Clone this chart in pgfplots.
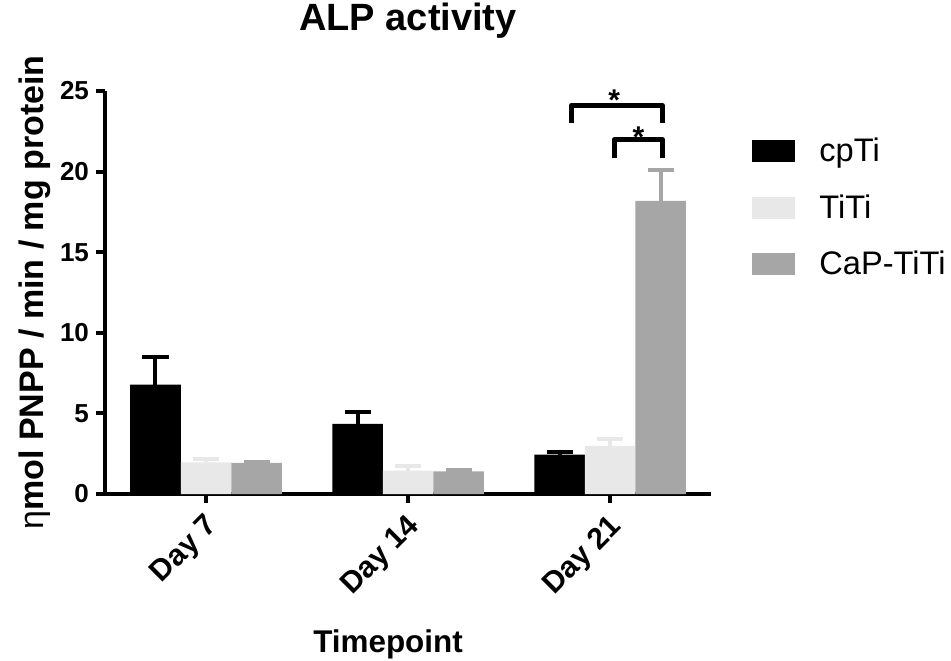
\documentclass[border=0pt]{standalone}
\usepackage{pgfplots}
\pgfplotsset{compat=1.18}
\usepackage{fontspec}
\setmainfont{Liberation Sans}
\definecolor{lightbar}{RGB}{232,232,232}
\definecolor{graybar}{RGB}{166,166,166}
\begin{document}
\begin{tikzpicture}
\useasboundingbox (-52.5pt,-83pt) rectangle (423pt,247pt);
\begin{axis}[
  at={(0,0)}, anchor=south west,
  scale only axis, width=303pt, height=201.5pt,
  xmin=-0.5, xmax=2.5, ymin=0, ymax=25,
  clip=false,
  axis x line*=bottom, axis y line*=left,
  axis line style={line width=2pt, black},
  tick style={line width=2pt, black},
  tick align=outside, major tick length=4.5pt,
  ybar=0pt, bar width=0.25,
  xtick={0,1,2}, xticklabels={Day 7, Day 14, Day 21},
  ytick={0,5,10,15,20,25},
  /pgf/number format/assume math mode=true,
  yticklabel style={font=\fontsize{13}{15}\selectfont\bfseries},
  xticklabel style={font=\fontsize{15}{17}\selectfont\bfseries, xshift=-1pt, yshift=-4.5pt, rotate=45, anchor=north east, inner sep=0pt},
  title={ALP activity},
  title style={font=\fontsize{19}{22}\selectfont\bfseries, at={(axis description cs:0.5,1.1199)}, anchor=base},
  xlabel={Timepoint},
  xlabel style={font=\fontsize{15.7}{18}\selectfont\bfseries, at={(axis description cs:0.467,-0.3945)}, anchor=base},
  ylabel={{\mdseries η}mol PNPP / min / mg protein},
  ylabel style={font=\fontsize{17}{20}\selectfont\bfseries, at={(axis description cs:-0.1023,0.5)}, anchor=base},
  legend image code/.code={\fill[#1] (0pt,-5.5pt) rectangle (21.5pt,5.5pt);},
  legend cell align=left,
  legend style={draw=none, fill=none, at={(1.0677,0.71)}, anchor=west,
    font=\fontsize{16.3}{19}\selectfont, row sep=11pt, column sep=10pt, inner sep=0pt},
]
\addplot[fill=black, draw=none,
  error bars/.cd, y dir=plus, y explicit,
  error bar style={line width=2pt, draw=black},
  error mark options={rotate=90, mark size=6.5pt, line width=2pt, draw=black}]
  coordinates {(0,6.78) +- (0,1.74) (1,4.35) +- (0,0.71) (2,2.45) +- (0,0.14)};
\addlegendentry{cpTi}
\addplot[fill=lightbar, draw=none,
  error bars/.cd, y dir=plus, y explicit,
  error bar style={line width=2pt, draw=lightbar},
  error mark options={rotate=90, mark size=6.5pt, line width=2pt, draw=lightbar}]
  coordinates {(0,1.97) +- (0,0.23) (1,1.45) +- (0,0.31) (2,2.98) +- (0,0.44)};
\addlegendentry{TiTi}
\addplot[fill=graybar, draw=none,
  error bars/.cd, y dir=plus, y explicit,
  error bar style={line width=2pt, draw=graybar},
  error mark options={rotate=90, mark size=6.5pt, line width=2pt, draw=graybar}]
  coordinates {(0,1.93) +- (0,0.08) (1,1.41) +- (0,0.1) (2,18.18) +- (0,1.91)};
\addlegendentry{CaP-TiTi}
\draw[line width=2.5pt, line join=round] (axis cs:1.808,23.0) -- (axis cs:1.808,24.1) -- (axis cs:2.259,24.1) -- (axis cs:2.259,23.0);
\draw[line width=2.5pt, line join=round] (axis cs:2.021,20.85) -- (axis cs:2.021,21.98) -- (axis cs:2.259,21.98) -- (axis cs:2.259,20.85);
\node[font=\fontsize{15}{18}\selectfont\bfseries] at (axis cs:2.021,24.43) {*};
\node[font=\fontsize{15}{18}\selectfont\bfseries] at (axis cs:2.141,22.13) {*};
\end{axis}
\end{tikzpicture}
\end{document}
